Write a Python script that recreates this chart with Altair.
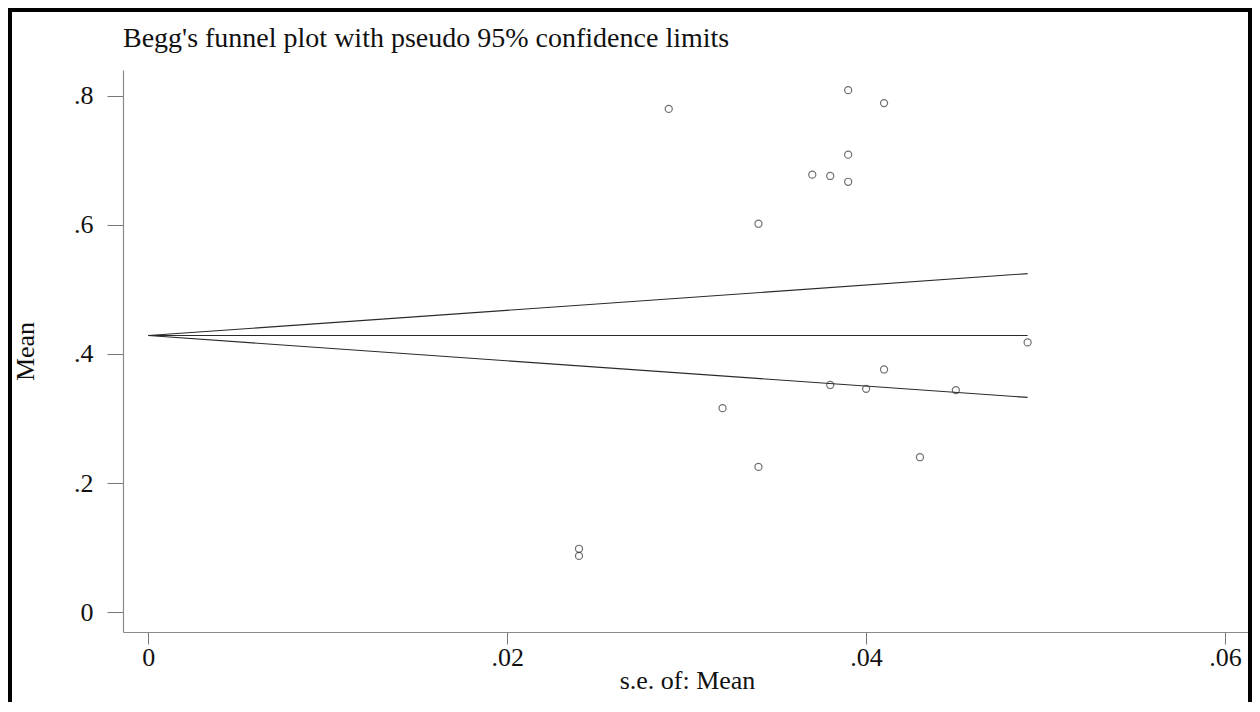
import altair as alt
import pandas as pd

# ---- data ----
se = [0.029, 0.039, 0.041, 0.039, 0.037, 0.038, 0.039, 0.034, 0.049,
      0.041, 0.038, 0.040, 0.045, 0.032, 0.034, 0.043, 0.024, 0.024]
mean = [0.780, 0.809, 0.789, 0.709, 0.678, 0.676, 0.667, 0.602, 0.418,
        0.376, 0.352, 0.346, 0.344, 0.316, 0.225, 0.240, 0.098, 0.087]

line_se = [0.0, 0.049]
pooled = [0.4286, 0.4286]
lower = [0.4286, 0.3327]
upper = [0.4286, 0.5246]

x_ticks = [0, 0.02, 0.04, 0.06]
y_ticks = [0, 0.2, 0.4, 0.6, 0.8]

pts = pd.DataFrame({"se": se, "mean": mean})
lines = pd.DataFrame({
    "se": line_se * 3,
    "val": pooled + lower + upper,
    "band": ["pooled"] * 2 + ["lower"] * 2 + ["upper"] * 2,
})

W, H = 1125, 562
FONT = "Liberation Serif"
FS = 26

xscale = alt.Scale(domain=[-0.00141, 0.06128], nice=False, zero=False)
yscale = alt.Scale(domain=[-0.031, 0.8403], nice=False, zero=False)

xaxis = alt.Axis(
    values=x_ticks, title="s.e. of: Mean", grid=False,
    labelExpr="datum.value == 0 ? '0' : replace(format(datum.value, '.2f'), '0.', '.')",
    tickSize=12, labelPadding=0, labelFlush=False, labelOverlap=False,
    titleX=(687 - 123), titleY=56, titleAlign="center", titleBaseline="alphabetic",
)
yaxis = alt.Axis(
    values=y_ticks, title="Mean", grid=False,
    labelExpr="datum.value == 0 ? '0' : replace(format(datum.value, '.1f'), '0.', '.')",
    tickSize=16, labelPadding=14, labelFlush=False, labelOverlap=False,
    labelBaseline="middle",
    titleAngle=-90, titleX=-90, titleY=H / 2, titleAlign="center",
    titleBaseline="alphabetic",
)

line_layer = alt.Chart(lines).mark_line(color="#2a2a2a", strokeWidth=1.1).encode(
    x=alt.X("se:Q", scale=xscale, axis=xaxis),
    y=alt.Y("val:Q", scale=yscale, axis=yaxis),
    detail="band:N",
)

pt_layer = alt.Chart(pts).mark_point(
    shape="circle", filled=False, size=50, color="#333333", strokeWidth=1.2
).encode(
    x=alt.X("se:Q", scale=xscale),
    y=alt.Y("mean:Q", scale=yscale),
)

frame = alt.Chart(pd.DataFrame({"f": [0]})).mark_rect(
    filled=False, stroke="black", strokeWidth=4
).encode(
    x=alt.value(-113), x2=alt.value(W + 2),
    y=alt.value(-60), y2=alt.value(H + 100),
)

chart = alt.layer(line_layer, pt_layer, frame).properties(
    width=W, height=H,
    background="white",
    title=alt.TitleParams(
        text="Begg's funnel plot with pseudo 95% confidence limits",
        anchor="start", frame="group", font=FONT, fontSize=28,
        fontWeight="normal", color="#111111", baseline="alphabetic",
        offset=18, dy=85,
    ),
    autosize=alt.AutoSizeParams(type="none"),
    padding={"left": 115, "top": 62, "right": 4, "bottom": 70},
).configure_view(stroke=None).configure_axis(
    labelFont=FONT, labelFontSize=FS, labelColor="#111111",
    titleFont=FONT, titleFontSize=FS, titleFontWeight="normal", titleColor="#111111",
    domainColor="#8a8a8a", domainWidth=1.2, tickColor="#777777", tickWidth=1,
)

chart.save("out.html", embed_options={"renderer": "svg", "actions": False})
